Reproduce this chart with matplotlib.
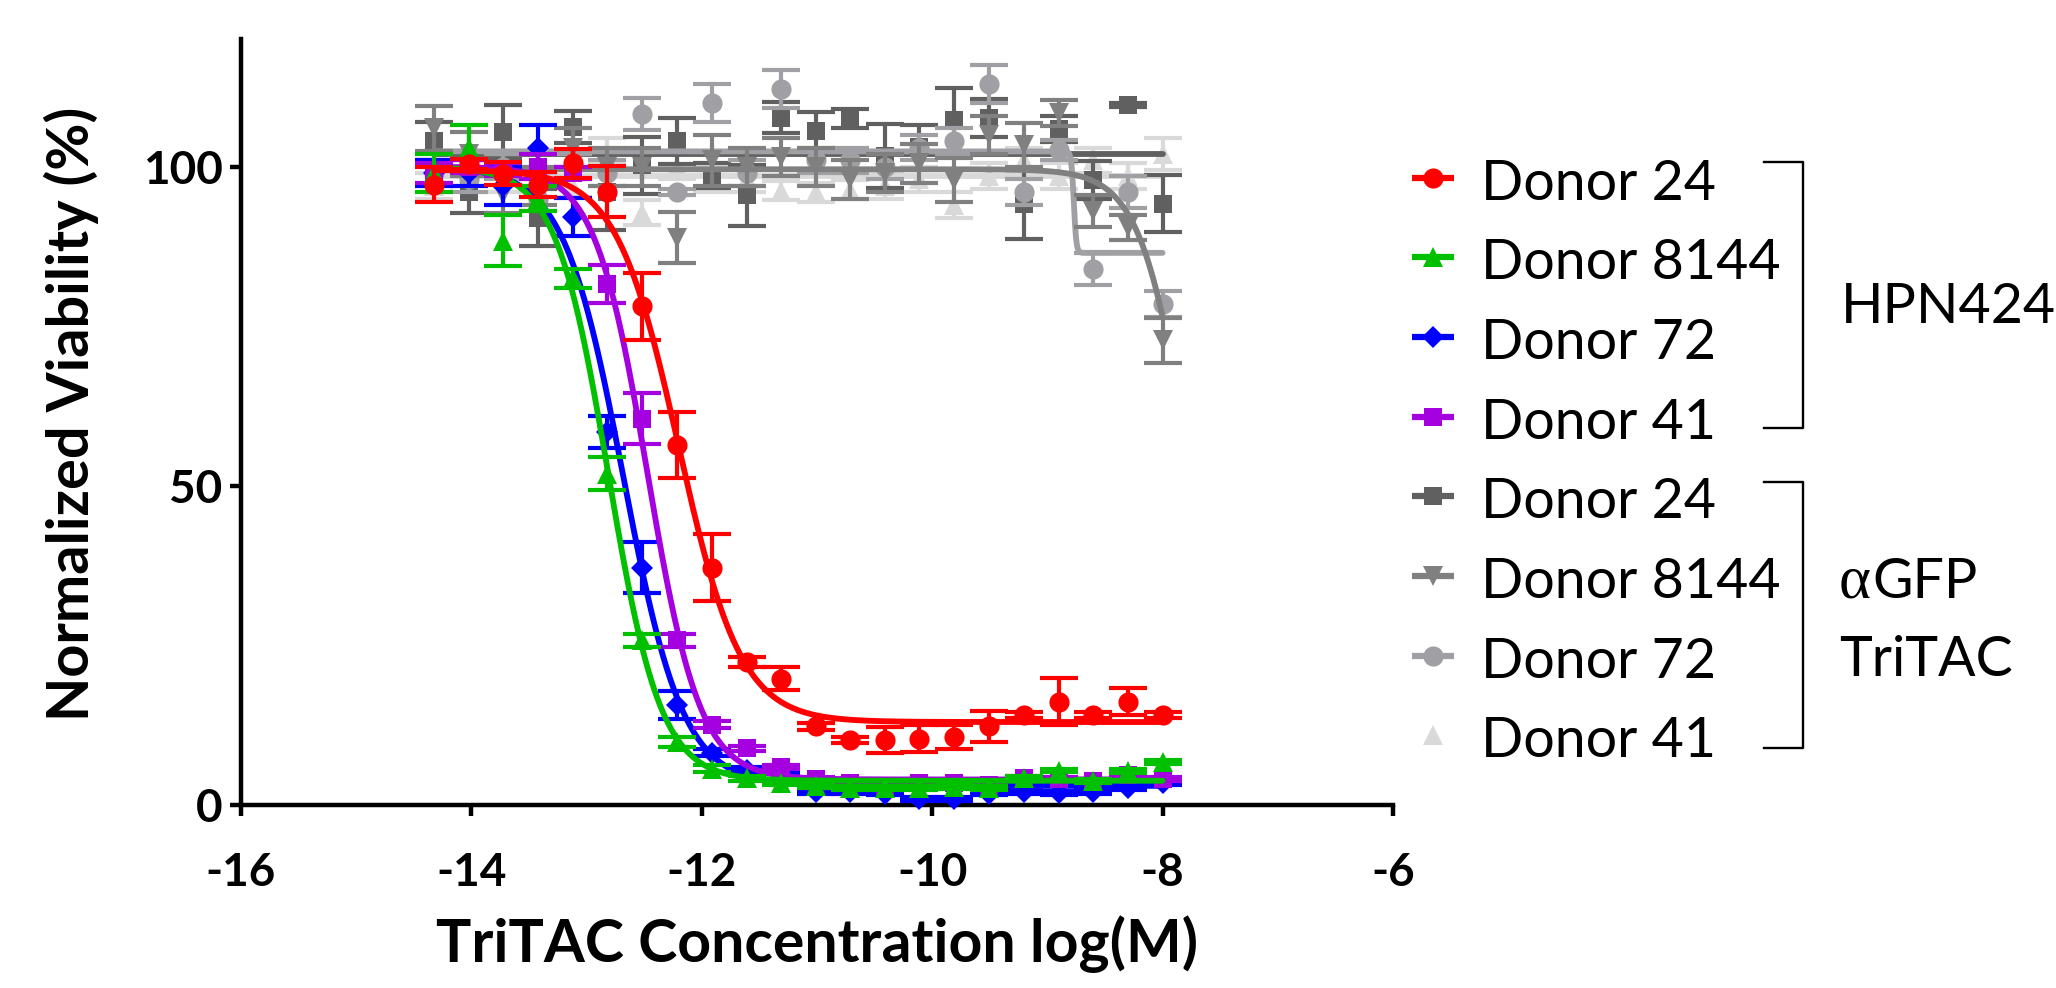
import numpy as np
import matplotlib
matplotlib.use("Agg")
import matplotlib.pyplot as plt

# ---------------- data ----------------
log_conc = [-14.32, -14.02, -13.72, -13.42, -13.12, -12.82, -12.52, -12.21,
            -11.91, -11.61, -11.31, -11.01, -10.71, -10.41, -10.11, -9.81,
            -9.51, -9.20, -8.90, -8.60, -8.30, -8.00]

# HPN424
hpn_d24 = [97.2, 100.4, 98.9, 97.2, 100.5, 96.1, 78.1, 56.4, 37.2, 22.4, 19.8,
           12.3, 10.2, 10.2, 10.4, 10.7, 12.3, 14.1, 16.2, 14.1, 16.2, 14.1]
hpn_d24_sd = [2.7, 0.8, 1.8, 2.0, 2.2, 4.0, 5.3, 5.1, 5.2, 0.8, 1.8,
              0.5, 0.5, 2.0, 2.1, 1.9, 2.4, 0.5, 3.7, 0.5, 2.1, 0.5]
hpn_d8144 = [99.0, 103.0, 88.4, 95.0, 82.5, 51.9, 25.8, 9.9, 5.7, 4.2, 3.4,
             3.0, 2.6, 2.6, 2.6, 2.8, 2.7, 4.2, 5.4, 3.7, 5.3, 6.8]
hpn_d8144_sd = [3.0, 3.5, 4.0, 2.0, 1.5, 2.6, 1.0, 0.8, 0.5, 0.4, 0.3,
                0.3, 0.3, 0.3, 0.3, 0.3, 0.3, 0.3, 0.3, 0.3, 0.3, 0.3]
hpn_d72 = [99.0, 99.0, 97.0, 102.9, 92.1, 58.4, 37.2, 15.6, 8.2, 5.5, 5.2,
           2.0, 2.0, 1.8, 1.0, 1.0, 1.8, 2.0, 1.9, 2.0, 2.6, 3.5]
hpn_d72_sd = [2.0, 2.0, 3.0, 3.7, 3.0, 2.5, 4.0, 2.2, 0.5, 0.4, 0.3,
              0.3, 0.3, 0.3, 0.3, 0.3, 0.3, 0.3, 0.3, 0.3, 0.3, 0.3]
hpn_d41 = [99.0, 100.0, 99.5, 100.0, 99.0, 81.6, 60.5, 25.8, 12.6, 8.9, 6.0,
           4.1, 3.4, 3.0, 3.4, 3.4, 3.1, 4.2, 4.1, 3.8, 4.7, 4.1]
hpn_d41_sd = [1.5, 1.0, 1.0, 2.0, 1.0, 3.0, 4.0, 1.0, 0.5, 0.4, 0.3,
              0.3, 0.3, 0.3, 0.3, 0.3, 0.3, 0.3, 0.3, 0.3, 0.3, 0.3]

# aGFP TriTAC
gfp_d24 = [104.0, 96.0, 105.4, 92.0, 106.2, 96.0, 100.2, 104.0, 98.6, 95.5, 107.7,
           105.6, 107.5, 101.7, 103.1, 107.3, 107.6, 94.1, 105.9, 97.9, 109.7, 94.2]
gfp_d24_sd = [3.0, 3.3, 4.2, 4.5, 2.5, 6.0, 4.5, 3.6, 2.0, 4.8, 2.5,
              3.0, 1.5, 5.0, 3.5, 5.0, 3.0, 5.5, 2.0, 3.0, 0.3, 4.5]
gfp_d8144 = [106.0, 102.0, 95.7, 97.0, 103.0, 100.0, 100.0, 88.9, 101.0, 100.0, 101.5,
             100.0, 98.0, 99.0, 100.5, 97.9, 105.0, 103.4, 108.4, 93.0, 90.5, 72.8]
gfp_d8144_sd = [3.5, 3.5, 3.0, 3.0, 3.0, 3.0, 3.0, 4.0, 4.0, 3.0, 3.0,
                3.0, 3.0, 3.0, 3.0, 3.5, 3.0, 3.5, 2.0, 2.5, 2.0, 3.5]
gfp_d72 = [99.0, 98.0, 100.0, 95.0, 100.0, 99.0, 108.2, 96.0, 110.0, 99.0, 112.2,
           101.0, 101.0, 100.0, 103.0, 104.0, 113.0, 96.0, 102.6, 84.0, 96.0, 78.5]
gfp_d72_sd = [2.0, 2.0, 2.0, 2.0, 2.0, 2.0, 2.5, 0.5, 3.0, 2.0, 3.0,
              2.0, 2.0, 2.0, 2.0, 2.0, 3.0, 2.0, 1.5, 2.5, 2.5, 2.0]
gfp_d41 = [97.0, 99.0, 98.0, 100.0, 96.8, 102.5, 92.8, 100.0, 98.0, 98.0, 96.2,
           96.0, 96.4, 97.0, 98.0, 94.0, 98.5, 101.0, 98.5, 101.0, 98.5, 102.0]
gfp_d41_sd = [2.0, 2.0, 2.0, 2.0, 1.5, 2.0, 2.0, 2.0, 2.0, 2.0, 1.5,
              1.5, 1.5, 2.0, 2.0, 2.0, 2.0, 2.0, 2.0, 2.0, 2.0, 2.5]

# 4-parameter logistic fit parameters: top, bottom, logEC50, hill slope
fit_hpn_d24 = [99.5, 13.0, -12.20, 1.6]
fit_hpn_d8144 = [100.0, 3.8, -12.81, 1.9]
fit_hpn_d72 = [100.0, 3.0, -12.68, 1.67]
fit_hpn_d41 = [100.0, 4.0, -12.47, 1.9]
fit_gfp_d24 = [102.0, 102.0, -9.0, 1.0]
fit_gfp_d8144 = [99.6, 0.0, -7.74, 2.0]
fit_gfp_d72 = [102.4, 86.5, -8.77, 40.0]
fit_gfp_d41 = [98.6, 98.6, -9.0, 1.0]

labels = ["Donor 24", "Donor 8144", "Donor 72", "Donor 41",
          "Donor 24", "Donor 8144", "Donor 72", "Donor 41"]
group_labels = ["HPN424", "GFP", "TriTAC"]
x_ticks = [-16, -14, -12, -10, -8, -6]
y_ticks = [0, 50, 100]

# ---------------- style ----------------
plt.rcParams['font.family'] = ['Lato', 'DejaVu Sans']

W, H = 2056, 988
fig = plt.figure(figsize=(W / 100, H / 100), dpi=100)
ax_l, ax_r, ax_b, ax_t = 240.7, 1393.0, 805.0, 39.0
ax = fig.add_axes([ax_l / W, 1 - ax_b / H, (ax_r - ax_l) / W, (ax_b - ax_t) / H])


def four_pl(x, p):
    top, bottom, c, h = p
    return bottom + (top - bottom) / (1 + 10 ** ((x - c) * h))


x_fit = np.linspace(min(log_conc), max(log_conc), 800)
x = np.array(log_conc)

series = [
    # (values, sd, fit, color, marker, ms, zorder)
    (gfp_d41, gfp_d41_sd, fit_gfp_d41, '#d9d9d9', '^', 14.0, 2),
    (gfp_d24, gfp_d24_sd, fit_gfp_d24, '#606060', 's', 13.5, 3),
    (gfp_d72, gfp_d72_sd, fit_gfp_d72, '#a0a0a4', 'o', 14.5, 4),
    (gfp_d8144, gfp_d8144_sd, fit_gfp_d8144, '#808080', 'v', 14.0, 5),
    (hpn_d72, hpn_d72_sd, fit_hpn_d72, '#0000ff', 'D', 11.0, 6),
    (hpn_d41, hpn_d41_sd, fit_hpn_d41, '#a500e0', 's', 13.5, 7),
    (hpn_d8144, hpn_d8144_sd, fit_hpn_d8144, '#00c000', '^', 14.0, 8),
    (hpn_d24, hpn_d24_sd, fit_hpn_d24, '#ff0000', 'o', 14.5, 9),
]

for vals, sd, fit, col, mk, ms, z in series:
    ax.plot(x_fit, four_pl(x_fit, fit), color=col, lw=4.2, zorder=z,
            solid_capstyle='round', clip_on=False)
    eb = ax.errorbar(x, vals, yerr=sd, fmt='none', ecolor=col, elinewidth=3.0,
                     capsize=14, capthick=3.0, zorder=z)
    for art in eb.lines[1] + eb.lines[2]:
        art.set_clip_on(False)
    ax.plot(x, vals, ls='none', marker=mk, ms=ms, color=col, mec=col, mew=0,
            zorder=z + 0.1, clip_on=False)

ax.set_xlim(-16, -6)
ax.set_ylim(0, 120)
ax.set_xticks(x_ticks)
ax.set_yticks(y_ticks)
ax.set_xticklabels([str(v) for v in x_ticks])
ax.set_yticklabels([str(v) for v in y_ticks])
for s in ['top', 'right']:
    ax.spines[s].set_visible(False)
for s in ['left', 'bottom']:
    ax.spines[s].set_linewidth(3.2)
ax.tick_params(axis='both', width=3.2, length=8, labelsize=33)
ax.tick_params(axis='x', pad=26)
ax.tick_params(axis='y', pad=5)
for lab in ax.get_xticklabels() + ax.get_yticklabels():
    lab.set_fontweight('bold')

ax.set_xlabel('TriTAC Concentration log(M)', fontsize=42.5, fontweight='bold', va='baseline')
ax.xaxis.set_label_coords(0.5, (ax_b - 962) / (ax_b - ax_t))
ax.set_ylabel('Normalized Viability (%)', fontsize=41.5, fontweight='bold', va='baseline')
ax.yaxis.set_label_coords((89 - ax_l) / (ax_r - ax_l), 0.51)

# ---------------- legend (figure pixel overlay) ----------------
lax = fig.add_axes([0, 0, 1, 1], facecolor='none')
lax.set_xlim(0, W)
lax.set_ylim(H, 0)
lax.axis('off')

legend_order = [
    ('#ff0000', 'o', 14.5), ('#00c000', '^', 14.0), ('#0000ff', 'D', 11.0), ('#a500e0', 's', 13.5),
    ('#606060', 's', 13.5), ('#808080', 'v', 14.0), ('#a0a0a4', 'o', 14.5), ('#d9d9d9', '^', 14.0),
]
row0, drow = 177.7, 79.65
for i, ((col, mk, ms), lab) in enumerate(zip(legend_order, labels)):
    yy = row0 + drow * i
    if i < 7:
        lax.plot([1412, 1454], [yy, yy], color=col, lw=4.5, solid_capstyle='butt')
    lax.plot([1433], [yy], marker=mk, ms=ms, color=col, mew=0, ls='none')
    lax.text(1481, yy + 22, lab, fontsize=40, va='baseline', ha='left', color='black')

# brackets
lax.plot([1764, 1803, 1803, 1764], [162.3, 162.3, 427.7, 427.7], color='black', lw=1.7)
lax.plot([1764, 1803, 1803, 1764], [482.4, 482.4, 747.7, 747.7], color='black', lw=1.7)
lax.text(1841, 322.8, group_labels[0], fontsize=40, va='baseline', ha='left')
alpha_t = lax.text(1839, 597.7, '\u03b1', fontsize=44, va='baseline', ha='left',
                   family=['Liberation Serif', 'DejaVu Serif'])
renderer = fig.canvas.get_renderer()
bb = alpha_t.get_window_extent(renderer)
lax.text(bb.x1 + 1, 597.7, group_labels[1], fontsize=40, va='baseline', ha='left',
         transform=matplotlib.transforms.blended_transform_factory(
             matplotlib.transforms.IdentityTransform(), lax.transData))
lax.text(1839, 676.4, group_labels[2], fontsize=40, va='baseline', ha='left')

fig.savefig('out.png', dpi=100)
